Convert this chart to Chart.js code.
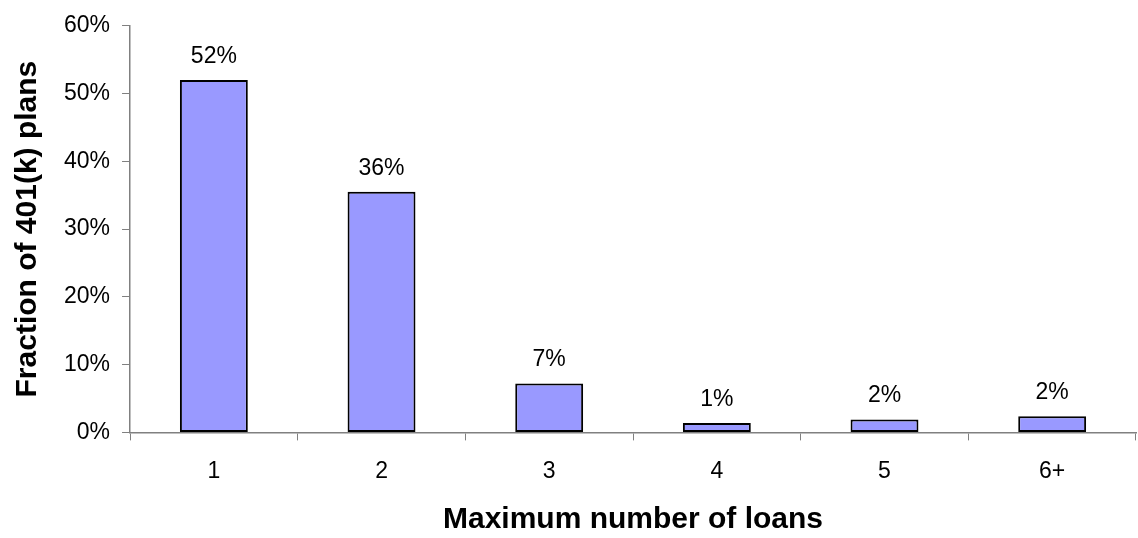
<!DOCTYPE html>
<html><head><meta charset="utf-8">
<script src="https://cdn.jsdelivr.net/npm/chart.js@4"></script>
<style>html,body{margin:0;padding:0;background:#fff}#wrap{width:1138px;height:538px}</style>
</head><body><div id="wrap"><canvas id="c"></canvas></div>
<script>
const categories = ['1', '2', '3', '4', '5', '6+'];
const fractions = [52, 35.5, 7.2, 1.4, 1.9, 2.4];
const pointLabels = ['52%', '36%', '7%', '1%', '2%', '2%'];
const yTicks = [0, 10, 20, 30, 40, 50, 60];

const FONT = 'Arial, "Liberation Sans"';

const barLabels = {
    id: 'barLabels',
    afterDatasetsDraw(chart) {
        const ctx = chart.ctx;
        const meta = chart.getDatasetMeta(0);
        ctx.save();
        ctx.font = '23px ' + FONT;
        ctx.fillStyle = '#000';
        ctx.textAlign = 'center';
        ctx.textBaseline = 'bottom';
        meta.data.forEach(function (bar, i) {
            ctx.fillText(pointLabels[i], bar.x, bar.y - 12);
        });
        ctx.restore();
    }
};

new Chart(document.getElementById('c'), {
    type: 'bar',
    data: {
        labels: categories,
        datasets: [{
            data: fractions,
            backgroundColor: '#9999ff',
            borderColor: '#000',
            borderWidth: 2,
            borderSkipped: false,
            categoryPercentage: 1,
            barPercentage: 0.405
        }]
    },
    options: {
        responsive: true,
        maintainAspectRatio: false,
        animation: false,
        layout: { padding: { top: 0, right: 2, left: 6, bottom: 0 } },
        plugins: { legend: { display: false }, tooltip: { enabled: false } },
        scales: {
            x: {
                grid: { display: true, drawOnChartArea: false, offset: true, color: '#808080', tickLength: 8 },
                border: { color: '#808080', width: 1.5 },
                ticks: { color: '#000', font: { size: 23, family: FONT }, padding: 17 },
                title: { display: true, text: 'Maximum number of loans', color: '#000', font: { size: 30, weight: 'bold', family: FONT }, padding: { top: 0, bottom: 0 } }
            },
            y: {
                min: 0, max: 60,
                afterBuildTicks(axis) { axis.ticks = yTicks.map(v => ({ value: v })); },
                grid: { display: true, drawOnChartArea: false, color: '#808080', tickLength: 8 },
                border: { color: '#808080', width: 1.5 },
                ticks: { color: '#000', font: { size: 23, family: FONT }, callback: v => v + '%', padding: 12 },
                title: { display: true, text: 'Fraction of 401(k) plans', color: '#000', font: { size: 30, weight: 'bold', family: FONT }, padding: { bottom: 6 } }
            }
        }
    },
    plugins: [barLabels]
});
</script></body></html>
